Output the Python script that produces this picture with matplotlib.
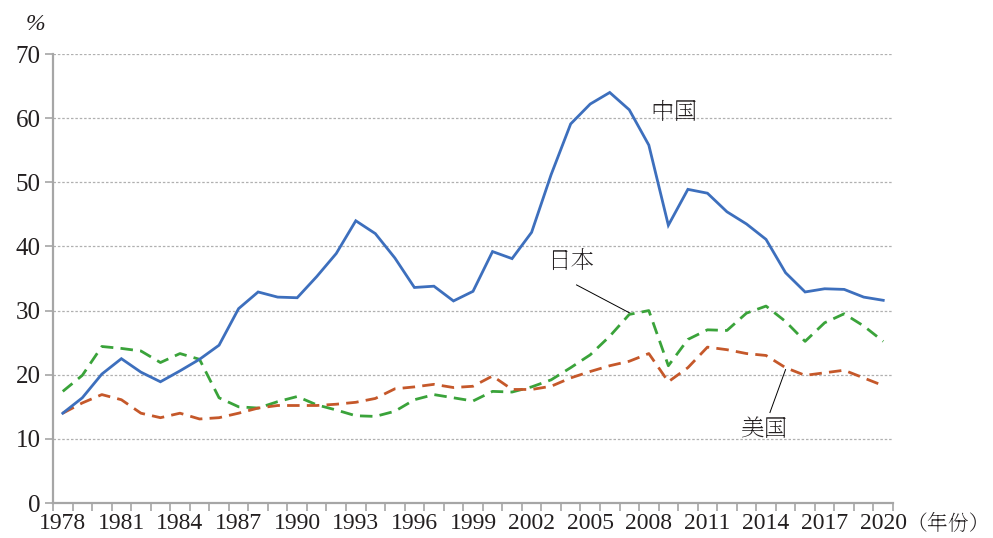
import matplotlib
matplotlib.use("Agg")
import matplotlib.pyplot as plt
import numpy as np

years = list(range(1978, 2021))
china = [14.0, 16.4, 20.1, 22.5, 20.4, 18.9, 20.6, 22.4, 24.6, 30.3, 32.9, 32.1, 32.0,
         35.3, 38.9, 44.0, 42.0, 38.2, 33.6, 33.8, 31.5, 33.0, 39.2, 38.1, 42.2, 51.2,
         59.1, 62.2, 64.0, 61.3, 55.8, 43.3, 48.9, 48.3, 45.4, 43.5, 41.1, 35.9, 32.9,
         33.4, 33.3, 32.1, 31.6]
japan = [17.4, 19.9, 24.4, 24.1, 23.7, 21.9, 23.3, 22.4, 16.4, 15.0, 14.8, 15.8, 16.6,
         15.3, 14.5, 13.6, 13.5, 14.3, 16.1, 16.9, 16.4, 15.9, 17.4, 17.3, 18.1, 19.2,
         21.1, 23.1, 26.0, 29.4, 30.0, 21.4, 25.5, 27.0, 26.9, 29.6, 30.7, 28.3, 25.2,
         28.1, 29.5, 27.6, 25.2]
usa = [14.0, 15.6, 16.9, 16.1, 14.0, 13.3, 14.0, 13.1, 13.3, 14.0, 14.8, 15.2, 15.2,
       15.2, 15.4, 15.7, 16.3, 17.8, 18.1, 18.5, 18.0, 18.2, 19.8, 17.7, 17.7, 18.2,
       19.5, 20.5, 21.4, 22.1, 23.3, 18.9, 21.1, 24.3, 23.9, 23.3, 23.0, 21.1, 19.9,
       20.3, 20.7, 19.5, 18.3]
yticks = [0, 10, 20, 30, 40, 50, 60, 70]
label_years = list(range(1978, 2021, 3))

plt.rcParams['font.family'] = ['Liberation Serif', 'Noto Serif SC']
cjk = ['Noto Serif SC', 'Liberation Serif']
txt = '#231f20'
axcol = '#a6a6a6'

fig = plt.figure(figsize=(9.93, 5.38), dpi=100)
W, H = 993, 538
ax = fig.add_axes([53 / W, 1 - 503 / H, 840 / W, 449 / H])

x = np.arange(len(years))
ax.plot(x, china, color='#3d6fbd', lw=2.0, solid_joinstyle='miter', zorder=4)
ax.plot(x, japan, color='#3aa33a', lw=2.0, dashes=(4.5, 2.6), zorder=3)
ax.plot(x, usa, color='#c5582a', lw=2.0, dashes=(4.5, 2.6), zorder=3)

ax.set_xlim(-0.5, len(years) - 0.5)
ax.set_ylim(0, 70)
ax.set_yticks(yticks)
ax.set_yticklabels([str(v) for v in yticks], fontsize=18, color=txt)
ax.yaxis.grid(True, color='#b0b0b0', lw=0.9, ls=(0, (2, 1.5)))
ax.set_axisbelow(True)

# boundary ticks (major) and centred labels (minor)
ax.set_xticks(np.arange(-0.5, len(years) + 0.5, 1.0))
ax.set_xticklabels([])
ax.set_xticks([years.index(y) for y in label_years], minor=True)
ax.set_xticklabels([str(y) for y in label_years], minor=True, fontsize=17, color=txt)
ax.tick_params(axis='x', which='major', length=6, width=1.2, color=axcol, direction='out')
ax.tick_params(axis='x', which='minor', length=0, pad=7)
ax.tick_params(axis='y', length=6, width=1.2, color=axcol, pad=3)

for s in ['top', 'right']:
    ax.spines[s].set_visible(False)
for s in ['left', 'bottom']:
    ax.spines[s].set_color(axcol)
    ax.spines[s].set_linewidth(1.6)

# annotations
ax.text(years.index(2008) + 0.1, 60.9, '中国', fontsize=17, color=txt, ha='left', va='center',
        family=cjk)
ax.text(years.index(2004), 37.5, '日本', fontsize=17, color=txt, ha='center', va='center',
        family=cjk)
ax.plot([years.index(2004) + 0.3, years.index(2007) + 0.1], [34.0, 29.5], color='black', lw=0.7)
ax.text(years.index(2014) - 0.1, 11.4, '美国', fontsize=17, color=txt, ha='center', va='center',
        family=cjk)
ax.plot([years.index(2014) + 0.2, years.index(2015)], [14.1, 20.8], color='black', lw=0.7)

fig.text(35 / W, 1 - 25 / H, '%', fontsize=17, color=txt, ha='center', va='center', style='italic')
fig.text(906 / W, 1 - 524 / H, '（年份）', fontsize=15, color=txt, ha='left', va='center',
         family=cjk)

fig.savefig('out.png', dpi=100)
